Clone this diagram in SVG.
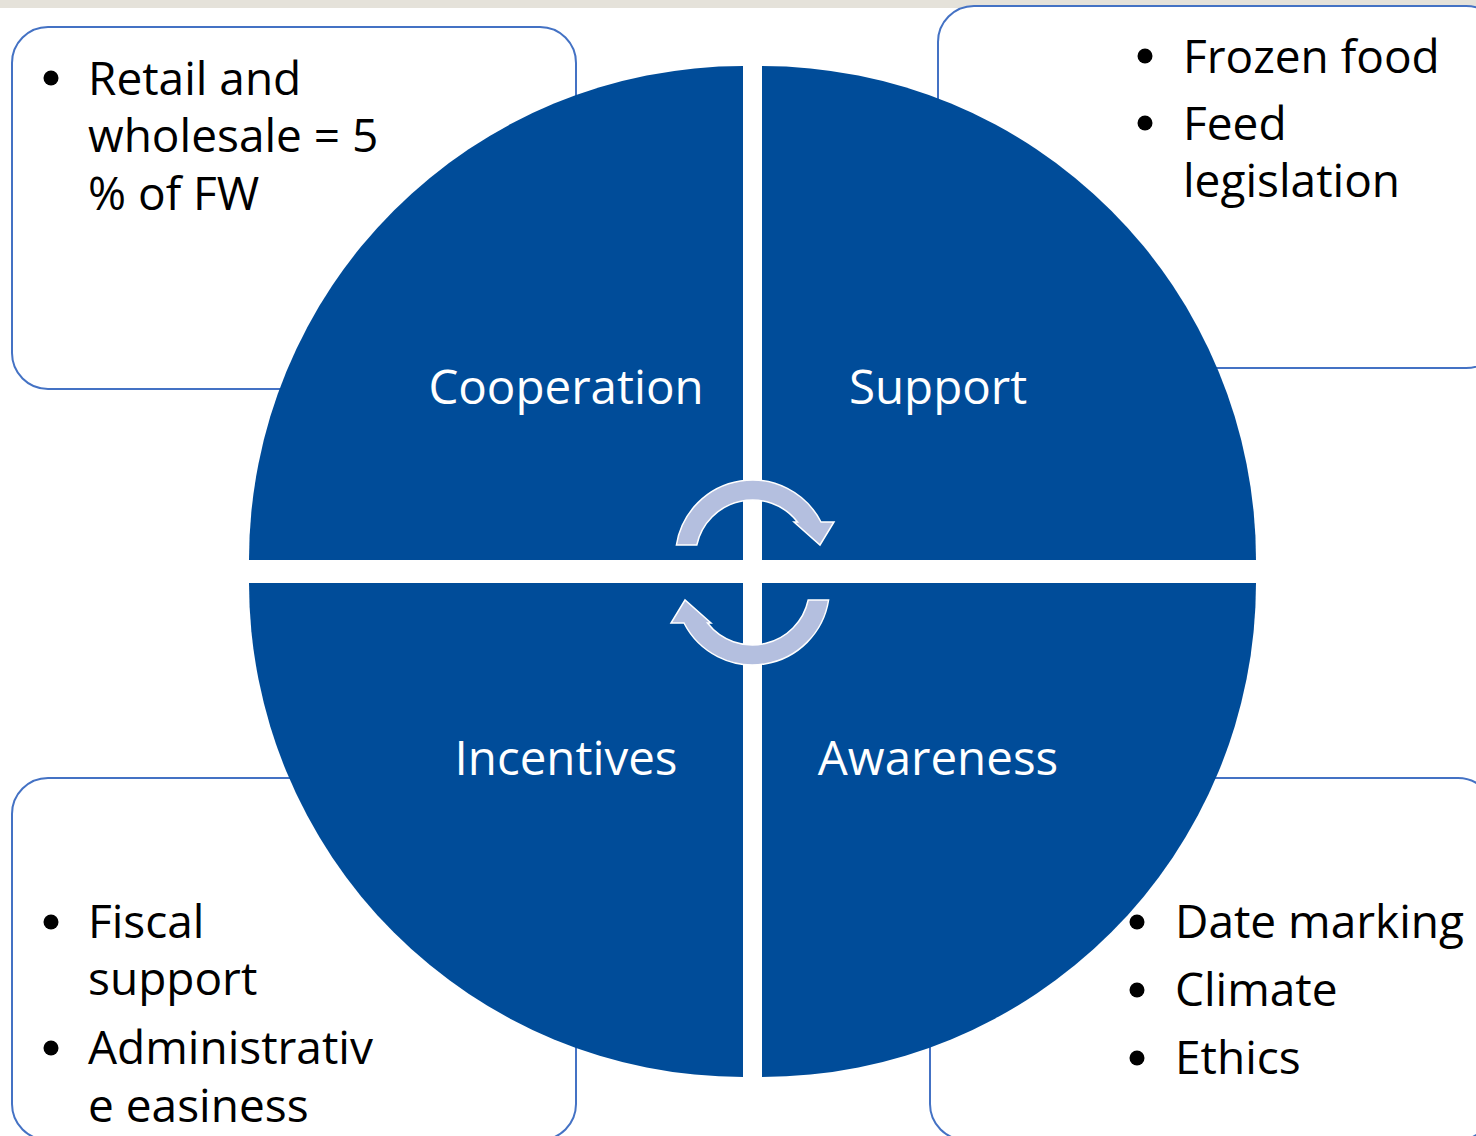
<svg xmlns="http://www.w3.org/2000/svg" xmlns:xlink="http://www.w3.org/1999/xlink" width="1476" height="1136" viewBox="0 0 1476 1136">
  <style>
    .box { fill:#ffffff; stroke:#4472C4; stroke-width:2; }
    .quad { fill:#004C99; }
    .arrow { fill:#B4BFDF; stroke:#ffffff; stroke-width:1.5; stroke-linejoin:miter; }
    .lbl { font-family:"Open Sans","Liberation Sans",sans-serif; font-size:47.5px; fill:#ffffff; text-anchor:middle; }
    .txt { font-family:"Open Sans","Liberation Sans",sans-serif; font-size:46px; fill:#000000; }
    .dot { fill:#000000; }
  </style>
  <defs>
    <path id="cycArrow" d="M 676.4,545 A 77,77 0 0 1 821,522 L 834,522 L 820,545 L 794,522 L 797.5,522 A 57,57 0 0 0 696.8,545 Z"/>
  </defs>

  <rect x="0" y="0" width="1476" height="1136" fill="#ffffff"/>
  <rect x="0" y="0" width="1476" height="8" fill="#E5E2DA"/>

  <!-- side boxes (behind the circle) -->
  <g id="box-tl"><rect class="box" x="12" y="27" width="564" height="362" rx="36" ry="36"/></g>
  <g id="box-tr"><rect class="box" x="938" y="6" width="564" height="362" rx="36" ry="36"/></g>
  <g id="box-bl"><rect class="box" x="12" y="778" width="564" height="362" rx="36" ry="36"/></g>
  <g id="box-br"><rect class="box" x="930" y="778" width="564" height="362" rx="36" ry="36"/></g>

  <!-- quadrants -->
  <g id="cooperation">
    <path class="quad" d="M 743,560 L 249,560 A 494,494 0 0 1 743,66 Z"/>
    <text class="lbl" x="566" y="404">Cooperation</text>
  </g>
  <g id="support">
    <path class="quad" d="M 762,560 L 762,66 A 494,494 0 0 1 1256,560 Z"/>
    <text class="lbl" x="938" y="404">Support</text>
  </g>
  <g id="incentives">
    <path class="quad" d="M 743,583 L 743,1077 A 494,494 0 0 1 249,583 Z"/>
    <text class="lbl" x="566" y="775">Incentives</text>
  </g>
  <g id="awareness">
    <path class="quad" d="M 762,583 L 1256,583 A 494,494 0 0 1 762,1077 Z"/>
    <text class="lbl" x="938" y="775">Awareness</text>
  </g>

  <!-- cycle arrows -->
  <g id="connectors">
    <use class="arrow" xlink:href="#cycArrow" href="#cycArrow"/>
    <use class="arrow" xlink:href="#cycArrow" href="#cycArrow" transform="rotate(180 752.5 572.5)"/>
  </g>

  <!-- box texts -->
  <g id="text-tl">
    <circle class="dot" cx="51" cy="78" r="7.5"/>
    <text class="txt" x="88" y="95">Retail and</text>
    <text class="txt" x="88" y="152">wholesale = 5</text>
    <text class="txt" x="88" y="210">% of FW</text>
  </g>
  <g id="text-tr">
    <circle class="dot" cx="1145" cy="56" r="7.5"/>
    <text class="txt" x="1183" y="73">Frozen food</text>
    <circle class="dot" cx="1145" cy="123" r="7.5"/>
    <text class="txt" x="1183" y="140">Feed</text>
    <text class="txt" x="1183" y="197">legislation</text>
  </g>
  <g id="text-bl">
    <circle class="dot" cx="51" cy="922" r="7.5"/>
    <text class="txt" x="88" y="938">Fiscal</text>
    <text class="txt" x="88" y="995">support</text>
    <circle class="dot" cx="51" cy="1048" r="7.5"/>
    <text class="txt" x="88" y="1064">Administrativ</text>
    <text class="txt" x="88" y="1122">e easiness</text>
  </g>
  <g id="text-br">
    <circle class="dot" cx="1137" cy="922" r="7.5"/>
    <text class="txt" x="1175" y="938">Date marking</text>
    <circle class="dot" cx="1137" cy="990" r="7.5"/>
    <text class="txt" x="1175" y="1006">Climate</text>
    <circle class="dot" cx="1137" cy="1058" r="7.5"/>
    <text class="txt" x="1175" y="1074">Ethics</text>
  </g>
</svg>
